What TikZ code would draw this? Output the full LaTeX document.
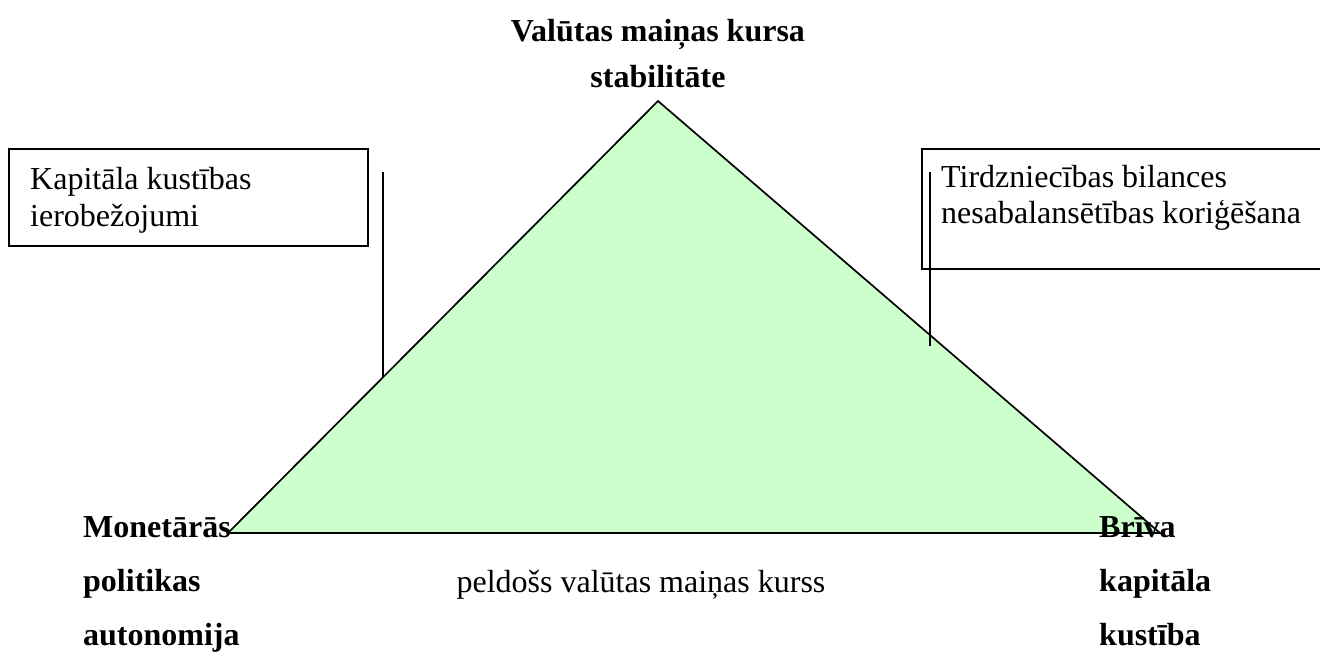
\documentclass[tikz,border=0pt]{standalone}
\usepackage{fontspec}
\setmainfont{Liberation Serif}
\definecolor{trifill}{HTML}{CCFFCC}
\begin{document}
\begin{tikzpicture}[x=1pt,y=-1pt,
  lbl/.style={inner sep=0pt,anchor=base west,font=\fontsize{32}{34}\selectfont\bfseries},
  ttl/.style={inner sep=0pt,anchor=base,font=\fontsize{32}{34}\selectfont\bfseries},
  boxtxt/.style={inner sep=0pt,anchor=base west,font=\fontsize{32}{34}\selectfont},
  midtxt/.style={inner sep=0pt,anchor=base,font=\fontsize{32}{34}\selectfont},
  frame/.style={draw=black,line width=1.4pt},
  tick/.style={draw=black,line width=1.4pt}]
\useasboundingbox (0,0) rectangle (1320,652);
% triangle
\coordinate (A) at (658,101);
\coordinate (L) at (228,533);
\coordinate (R) at (1160,533);
\filldraw[fill=trifill,draw=black,line width=1.7pt,line join=miter] (A) -- (R) -- (L) -- cycle;
% boxes
\draw[frame] (9,149) rectangle (368,246);
\draw[frame] (922,149) rectangle (1330,269);
% vertical lines
\coordinate (l1) at (383,172);
\coordinate (l2) at (383,377);
\coordinate (r1) at (930,172);
\coordinate (r2) at (930,346);
\draw[tick] (l1) -- (l2);
\draw[tick] (r1) -- (r2);
% box texts
\node[boxtxt] (k1) at (30,190) {Kapitāla kustības};
\node[boxtxt] (k2) at (30,227) {ierobežojumi};
\node[boxtxt] (t1) at (941,188) {Tirdzniecības bilances};
\node[boxtxt] (t2) at (941,224) {nesabalansētības koriģēšana};
% title
\node[ttl] (v1) at (658,42) {Valūtas maiņas kursa};
\node[ttl] (v2) at (658,88) {stabilitāte};
% bottom left
\node[lbl] (m1) at (83,537) {Monetārās};
\node[lbl] (m2) at (83,591) {politikas};
\node[lbl] (m3) at (83,645) {autonomija};
% bottom right
\node[lbl] (b1) at (1099,537) {Brīva};
\node[lbl] (b2) at (1099,591) {kapitāla};
\node[lbl] (b3) at (1099,645) {kustība};
% middle
\node[midtxt] (p) at (641,592) {peldošs valūtas maiņas kurss};
\end{tikzpicture}
\end{document}
